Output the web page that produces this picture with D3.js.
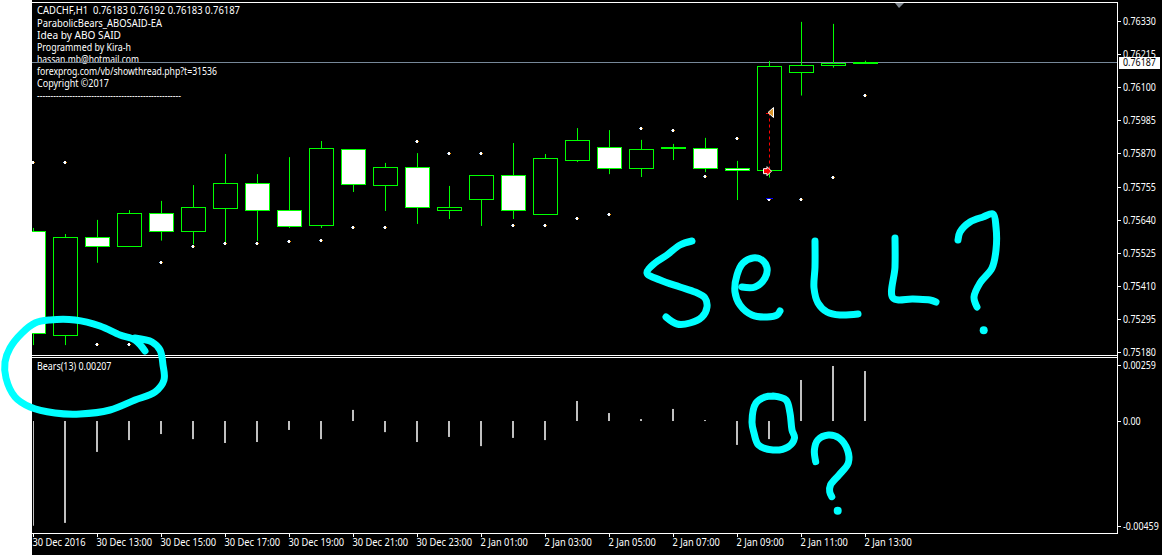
<!DOCTYPE html>
<html><head><meta charset="utf-8">
<script src="https://cdn.jsdelivr.net/npm/d3@7/dist/d3.min.js"></script>
<style>html,body{margin:0;padding:0;background:#fff}svg{display:block}text{font-family:"Noto Sans",sans-serif;font-size:10px;fill:#fff;white-space:pre}</style>
</head><body><svg id="c" width="1162" height="555"></svg>
<script>
const opens =[0.75599,0.75238,0.75579,0.75546,0.75662,0.75598,0.75678,0.75766,0.75672,0.75622,0.75884,0.75761,0.75822,0.75671,0.75709,0.75794,0.75657,0.75848,0.75891,0.75817,0.75891,0.75888,0.75818,0.75810,0.76152,0.76176,0.76183];
const highs =[0.75611,0.75590,0.75639,0.75673,0.75705,0.75760,0.75868,0.75798,0.75857,0.75913,0.75884,0.75837,0.75871,0.75757,0.75794,0.75906,0.75868,0.75958,0.75951,0.75917,0.75903,0.75924,0.75844,0.76191,0.76327,0.76320,0.76192];
const lows  =[0.75204,0.75204,0.75490,0.75546,0.75567,0.75554,0.75558,0.75566,0.75611,0.75611,0.75736,0.75670,0.75625,0.75642,0.75618,0.75642,0.75657,0.75840,0.75798,0.75788,0.75847,0.75805,0.75708,0.75786,0.76071,0.76168,0.76183];
const closes=[0.75243,0.75579,0.75549,0.75662,0.75598,0.75683,0.75766,0.75671,0.75615,0.75888,0.75761,0.75822,0.75683,0.75683,0.75794,0.75674,0.75853,0.75916,0.75817,0.75884,0.75887,0.75817,0.75810,0.76173,0.76176,0.76183,0.76187];
const bullish=[0,1,0,1,0,1,1,0,0,1,0,1,0,1,1,0,1,1,0,1,0,0,0,1,1,1,1];
const sarDots=[0.75839,0.75839,0.75207,0.75207,0.75492,0.75547,0.75558,0.75558,0.75565,0.75568,0.75613,0.75613,0.75912,0.75870,0.75870,0.75620,0.75620,0.75645,0.75658,0.75957,0.75950,0.75790,0.75923,0.75711,0.75711,0.75787,0.76072];
const bears=[-0.00434,-0.00422,-0.00128,-0.00079,-0.00054,-0.00075,-0.00091,-0.00087,-0.00037,-0.00075,0.00046,-0.00046,-0.00087,-0.00066,-0.00104,-0.00070,-0.00079,0.00083,0.00033,0.00008,0.00050,0.00004,-0.00099,-0.00075,0.00170,0.00228,0.00207];
const priceTicks=["0.76330","0.76215","0.76100","0.75985","0.75870","0.75755","0.75640","0.75525","0.75410","0.75295","0.75180"];
const bearTicks=["0.00259","0.00","-0.00459"];
const timeLabels=["30 Dec 2016","30 Dec 13:00","30 Dec 15:00","30 Dec 17:00","30 Dec 19:00","30 Dec 21:00","30 Dec 23:00","2 Jan 01:00","2 Jan 03:00","2 Jan 05:00","2 Jan 07:00","2 Jan 09:00","2 Jan 11:00","2 Jan 13:00"];
const headerLines=["CADCHF,H1  0.76183 0.76192 0.76183 0.76187","ParabolicBears_ABOSAID-EA","Idea by ABO SAID","Programmed by Kira-h","hassan.mb@hotmail.com","forexprog.com/vb/showthread.php?t=31536","Copyright ©2017","-----------------------------------------------------"];
const headerWidths=[203,125,84,94,102,180,72,144];
const bid=0.76187, signalEntry=0.76012, signalExit=0.75810, signalStop=0.75717;
const inkStrokes=[
 [[145,351],[135,340],[120,335],[100,326],[75,320],[50,320],[35,323],[22,333],[10,348],[5,362],[6,378],[15,397],[30,407],[55,413],[80,414],[110,410],[135,400],[155,392],[164,380],[163,365],[160,350],[152,342],[135,338]],
 [[692,241],[680,245],[667,255],[655,263],[647,273],[660,280],[680,287],[695,292],[705,298],[707,307],[702,317],[690,323],[677,324],[666,317]],
 [[742,287],[755,287],[765,278],[767,268],[762,260],[753,258],[743,263],[737,275],[735,292],[740,305],[752,315],[767,317],[777,315],[780,311]],
 [[815,241],[815,267],[814,288],[818,303],[827,312],[840,315],[858,314]],
 [[895,238],[895,267],[893,298],[913,299],[930,300],[936,302]],
 [[958,240],[960,232],[970,222],[983,217],[993,214],[996,227],[996,250],[992,268],[980,283],[974,297],[977,307]],
 [[773,396],[786,400],[790,413],[792,430],[794.5,438],[788,447],[773,450],[758.5,445],[754,433],[752,422],[756,403],[765,397],[773,396]],
 [[815.7,461.7],[814.4,450],[817.8,440],[828.4,435],[839,438],[847.5,450],[848.3,463],[839,475],[830.5,485],[829.7,491.7],[831.8,496.7]]
];
const inkDots=[[983.7,330.3],[837.7,510.7]];

const svg=d3.select("#c");
const L=32,R=1117,T=2,M=355,B=533;
const x=d3.scaleLinear().domain([0,26]).range([33,865]);
const y=d3.scaleLinear().domain([0.7518,0.7633]).range([352,21]);
const yB=d3.scaleLinear().domain([-0.00459,0.00259]).range([531.8,358.5]);
const n=opens.length, idx=d3.range(n);
const label=(px,py,t,sx)=>svg.append("text").attr("transform",`translate(${px},${py}) scale(${sx},1)`).text(t);
svg.append("defs").append("clipPath").attr("id","plot").append("rect").attr("x",L).attr("y",T).attr("width",R-L).attr("height",M-T);
svg.append("clipPath").attr("id","low").append("rect").attr("x",L+1).attr("y",358).attr("width",R-L).attr("height",175);
svg.append("rect").attr("x",L).attr("y",0).attr("width",1162-L).attr("height",555).attr("fill","#000");
const W="#fff";
const hl=(a,b,v)=>svg.append("rect").attr("x",a).attr("y",v).attr("width",b-a).attr("height",1).attr("fill",W);
hl(L,R+1,2);hl(L,R+1,355);hl(L,R+1,357);hl(L,R+1,533);
svg.append("rect").attr("x",R).attr("y",2).attr("width",1).attr("height",532).attr("fill",W);

// header text, then bid line, then candles
headerLines.forEach((t,k)=>svg.append("text").attr("x",37).attr("y",k?15+12*k:14).attr("textLength",headerWidths[k]).attr("lengthAdjust","spacingAndGlyphs").text(t));
label(37,370,"Bears(13) 0.00207",0.89);
svg.append("rect").attr("x",L).attr("y",Math.round(y(bid))).attr("width",R-L).attr("height",1).attr("fill","#778899");

const plot=svg.append("g").attr("clip-path","url(#plot)");
plot.selectAll(".wick").data(idx).join("rect").attr("x",i=>x(i)).attr("width",1)
 .attr("y",i=>y(highs[i])).attr("height",i=>y(lows[i])-y(highs[i])).attr("fill","#0f0");
plot.selectAll(".body").data(idx).join("rect").attr("shape-rendering","crispEdges")
 .attr("x",i=>x(i)-12).attr("width",24)
 .attr("y",i=>Math.round(y(Math.max(opens[i],closes[i]))))
 .attr("height",i=>Math.max(1,Math.round(Math.abs(y(opens[i])-y(closes[i])))))
 .attr("fill",i=>bullish[i]?"#000":"#fff").attr("stroke","#0f0").attr("stroke-width",1)
 .attr("transform","translate(.5,.5)");

// dots
const dy=i=>Math.round(y(sarDots[i]));
plot.selectAll(".dotO").data(idx).join("rect").attr("x",i=>x(i)+1).attr("y",dy).attr("width",1).attr("height",1).attr("fill","#f90");
plot.selectAll(".dotB").data(idx).join("rect").attr("x",i=>x(i)-2).attr("y",dy).attr("width",1).attr("height",1).attr("fill","#9cf");
plot.selectAll(".dotW").data(idx).join("rect").attr("x",i=>x(i)-1).attr("y",i=>dy(i)-1).attr("width",2).attr("height",3).attr("fill","#fff");

// shift marker
const tx=899;
svg.append("path").attr("d",d3.line()([[tx-4,3],[tx+5,3],[tx,8]])+"Z").attr("fill","#808890");

// trade signal
const sx=x(23);
svg.append("line").attr("x1",sx+.5).attr("x2",sx+.5).attr("y1",y(signalEntry)).attr("y2",y(signalExit)).attr("stroke","#f00").attr("stroke-dasharray","3,3");
svg.append("rect").attr("x",sx-3).attr("y",Math.round(y(signalEntry))).attr("width",3).attr("height",1).attr("fill","#f00");
svg.append("path").attr("d",d3.line()([[sx+4.5,y(signalEntry)-5],[sx+4.5,y(signalEntry)+5],[sx-1,y(signalEntry)]])+"Z").attr("fill","#d9962a").attr("stroke","#fff");
const ey=y(signalExit)+.5;
svg.append("path").attr("d",d3.line()([[sx-5.5,ey-2.5],[sx-2,ey-2.5],[sx-2,ey-4.5],[sx+2.5,ey],[sx-2,ey+4.5],[sx-2,ey+2.5],[sx-5.5,ey+2.5]])+"Z").attr("fill","#f00").attr("stroke","#fff");
svg.append("rect").attr("x",sx-3).attr("y",Math.round(y(signalStop))+1).attr("width",7).attr("height",1).attr("fill","#00f");

// bears
svg.append("g").attr("clip-path","url(#low)").selectAll("rect").data(idx).join("rect").attr("fill","#c0c0c0")
 .attr("x",i=>x(i)-1).attr("width",2)
 .attr("y",i=>yB(Math.max(0,bears[i]))).attr("height",i=>Math.max(1,Math.abs(yB(bears[i])-yB(0))));

// price axis
priceTicks.forEach(t=>{const v=+t,py=Math.round(y(v));
 svg.append("rect").attr("x",R+1).attr("y",py).attr("width",3).attr("height",1).attr("fill",W);
 label(1123,py+4,t,0.89);});
svg.append("rect").attr("x",1119).attr("y",57).attr("width",41).attr("height",12).attr("fill","#fff");
label(1123,66,bid.toFixed(5),0.89).style("fill","#000");
// bears axis
bearTicks.forEach((t,k)=>{const py=yB(+t);const off=[6.5,0,-6][k];
 svg.append("rect").attr("x",R+1).attr("y",Math.round(py+off)).attr("width",3).attr("height",1).attr("fill",W);
 label(1123,py+off+4,t,0.89);});
// time axis
timeLabels.forEach((t,k)=>{const px=x(k*2);
 svg.append("rect").attr("x",px).attr("y",534).attr("width",1).attr("height",3).attr("fill",W);
 label(px-0.5,546,t,0.93);});

// ink
const ink=d3.line().curve(d3.curveCatmullRom.alpha(0.5));
svg.selectAll(".ink").data(inkStrokes).join("path").attr("d",ink).attr("fill","none").attr("stroke","#0ff").attr("stroke-width",7).attr("stroke-linecap","round").attr("stroke-linejoin","round");
svg.selectAll(".inkd").data(inkDots).join("circle").attr("cx",d=>d[0]).attr("cy",d=>d[1]).attr("r",4).attr("fill","#0ff");
</script></body></html>
